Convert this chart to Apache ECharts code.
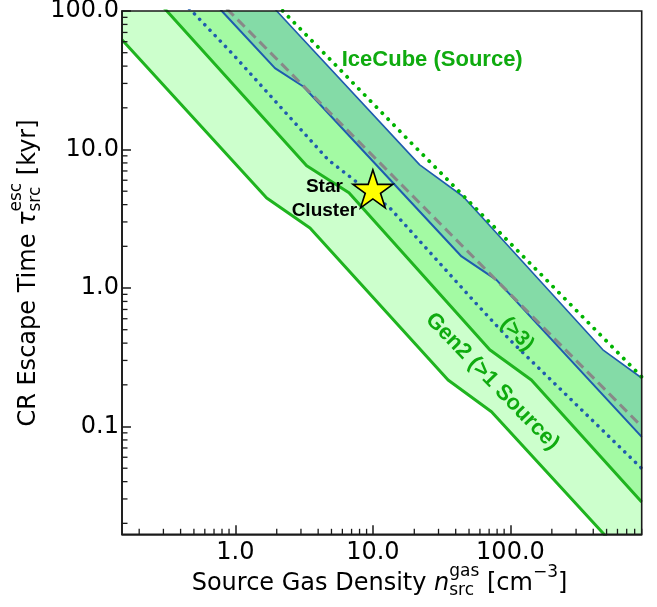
<!DOCTYPE html>
<html>
<head>
<meta charset="utf-8">
<script src="https://cdn.jsdelivr.net/npm/echarts@6/dist/echarts.min.js"></script>
<style>html,body{margin:0;padding:0;background:#fff}#chart{width:657px;height:607px}</style>
</head>
<body>
<div id="chart"></div>
<script>
// ---------- axis ranges ----------
const xMin = 0.15, xMax = 900;
const yMin = 1 / 60, yMax = 100;

// ---------- curves (density n [cm^-3] , escape time [kyr]) ----------
const gen2LowerX = [0.15, 1.69, 3.49, 35.2, 72.8, 470, 900];
const gen2LowerY = [62.0, 4.46, 2.71, 0.217, 0.128, 0.017, 0.0084];

const gen2MidX = [0.15, 0.318, 3.30, 6.70, 70.7, 142, 869, 900];
const gen2MidY = [228, 100, 7.63, 4.87, 0.358, 0.217, 0.0296, 0.0285];

const gen2UpperX = [0.15, 0.797, 1.94, 3.12, 44.1, 79.1, 900];
const gen2UpperY = [594, 100, 38.7, 28.5, 1.69, 1.146, 0.0841];

const iceEdgeX = [0.15, 2.0, 21.9, 45.3, 470, 900];
const iceEdgeY = [1594, 100, 7.75, 4.58, 0.358, 0.224];

const blueDotX = [0.3, 0.482, 0.967, 4.73, 13.3, 50.6, 98.8, 822, 900];
const blueDotY = [164, 100, 48.3, 8.43, 3.78, 0.868, 0.423, 0.0544, 0.0498];

const grayDashX = [0.5, 900];
const grayDashY = [180, 0.1];

const iceDotX = [2.0, 7.0, 18.6, 168, 845, 900];
const iceDotY = [111, 31.0, 11.4, 1.245, 0.243, 0.228];

const starX = [10];
const starY = [5.2];

// annotations: text, x, y, rotation
const annoText = ['IceCube (Source)', 'Gen2 (>1 Source)', '(>3)', 'Star\nCluster'];
const annoX = [27.0, 73.8, 112, 4.44];
const annoY = [44.4, 0.211, 0.465, 4.41];
const annoRot = [0, -46, -47, 0];

// tick values
const minorTicksX = [0.2, 0.3, 0.4, 0.5, 0.6, 0.7, 0.8, 0.9, 2, 3, 4, 5, 6, 7, 8, 9, 20, 30, 40, 50, 60, 70, 80, 90, 200, 300, 400, 500, 600, 700, 800, 900];
const minorTicksY = [0.02, 0.03, 0.04, 0.05, 0.06, 0.07, 0.08, 0.09, 0.2, 0.3, 0.4, 0.5, 0.6, 0.7, 0.8, 0.9, 2, 3, 4, 5, 6, 7, 8, 9, 20, 30, 40, 50, 60, 70, 80, 90];

// ---------- styling ----------
const C_LIGHT = '#ccffcc', C_MED = '#a3faa3', C_DARK = '#84dba7';
const C_GREEN = '#1fb41f', C_BLUE = '#1f5cae', C_GRAY = '#888888', C_GDOT = '#00b400';
const C_TEXT_GREEN = '#0fab0f';
const AXIS_C = '#1a1a1a';
const FONT = 'DejaVu Sans';
const FS = 24;

function pts(xs, ys) { return xs.map((x, i) => [x, ys[i]]); }
function fill(xs, ys, color, z) {
  return { type: 'line', data: pts(xs, ys), symbol: 'none', showSymbol: false, silent: true,
    lineStyle: { width: 0, opacity: 0 }, areaStyle: { color: color, opacity: 1, origin: 'start' }, z: z };
}
function stroke(xs, ys, color, width, type, z, cap) {
  return { type: 'line', data: pts(xs, ys), symbol: 'none', showSymbol: false, silent: true,
    lineStyle: { color: color, width: width, type: type, cap: cap || 'butt', join: 'round' }, z: z };
}
function isPow10(v) { const l = Math.log10(v); return Math.abs(l - Math.round(l)) < 1e-6; }
function fmt(v) { return isPow10(v) ? (Math.pow(10, Math.round(Math.log10(v)))).toFixed(1) : ''; }

// ---------- axis titles (graphic text with sub/superscripts) ----------
const mctx = document.createElement('canvas').getContext('2d');
function fontStr(sz, it) { return (it ? 'italic ' : '') + sz + 'px "' + FONT + '"'; }
function tw(t, sz, it) { mctx.font = fontStr(sz, it); mctx.textBaseline = 'alphabetic'; return mctx.measureText(t).width; }
function midOff(sz, it) { mctx.font = fontStr(sz, it); mctx.textBaseline = 'middle'; const m = mctx.measureText('H'); mctx.textBaseline = 'alphabetic'; return m.actualBoundingBoxDescent; }
function buildTitle(parts) {
  let x = 0; const items = [];
  parts.forEach(p => {
    if (p.stack) {
      let w = 0;
      p.stack.forEach(s => { items.push(Object.assign({ x: x }, s)); w = Math.max(w, tw(s.t, s.size, s.it)); });
      x += w;
    } else {
      items.push(Object.assign({ x: x }, p));
      x += tw(p.t, p.size, p.it);
    }
  });
  const total = x;
  return items.map(it => ({
    type: 'text', x: it.x - total / 2, y: (it.dy || 0) - midOff(it.size, it.it),
    style: { text: it.t, fontSize: it.size, fontFamily: FONT, fontStyle: it.it ? 'italic' : 'normal',
      fill: '#000', align: 'left', verticalAlign: 'middle' }
  }));
}
const xTitleParts = [
  { t: 'Source Gas Density ', size: FS },
  { t: 'n', size: FS, it: true },
  { stack: [{ t: 'gas', size: 17, dy: -14 }, { t: 'src', size: 17, dy: 5 }] },
  { t: ' [cm', size: FS },
  { t: '\u22123', size: 17, dy: -13 },
  { t: ']', size: FS }
];
const yTitleParts = [
  { t: 'CR Escape Time ', size: FS },
  { t: '\u03c4', size: FS, it: true },
  { stack: [{ t: 'esc', size: 17, dy: -14 }, { t: 'src', size: 17, dy: 5 }] },
  { t: ' [kyr]', size: FS }
];

// ---------- chart ----------
const chart = echarts.init(document.getElementById('chart'), null, { renderer: 'canvas' });

const starPath = 'path://M0,-100 L-22.45,-30.9 L-95.1,-30.9 L-36.3,11.8 L-58.8,80.9 L0,38.2 L58.8,80.9 L36.3,11.8 L95.1,-30.9 L22.45,-30.9 Z';

const annoData = annoText.map((t, i) => ({
  value: [annoX[i], annoY[i]], name: t,
  label: i === 3
    ? { color: '#000000', fontSize: 19, lineHeight: 24, fontWeight: 'bold', rotate: annoRot[i] }
    : { color: C_TEXT_GREEN, fontSize: i === 2 ? 21 : 22, fontWeight: 'bold', rotate: annoRot[i] }
}));

function minorTickSeries(vals, isX) {
  return {
    type: 'custom', z: 30, silent: true, clip: false,
    data: vals.map(v => isX ? [v, yMin] : [xMin, v]),
    renderItem: function (params, api) {
      const p = api.coord([api.value(0), api.value(1)]);
      const shape = isX ? { x1: p[0], y1: p[1], x2: p[0], y2: p[1] - 5.5 } : { x1: p[0], y1: p[1], x2: p[0] + 5.5, y2: p[1] };
      return { type: 'line', shape: shape, style: { stroke: AXIS_C, lineWidth: 1.3 } };
    }
  };
}

const option = {
  animation: false,
  backgroundColor: '#ffffff',
  grid: { left: 122, top: 11, right: 15.3, bottom: 72.7, show: true, borderColor: AXIS_C, borderWidth: 1.6,
    backgroundColor: 'transparent', z: 25, containLabel: false, outerBoundsMode: 'none' },
  xAxis: {
    type: 'log', logBase: 10, min: xMin, max: xMax, z: 20,
    axisLine: { show: true, lineStyle: { color: AXIS_C, width: 1.6 } },
    axisTick: { show: true, inside: true, length: 9, lineStyle: { color: AXIS_C, width: 1.5 } },
    axisLabel: { show: true, margin: 6, color: '#000', fontSize: FS, fontFamily: FONT, formatter: fmt,
      showMinLabel: false, showMaxLabel: false },
    splitLine: { show: false }, minorTick: { show: false }, minorSplitLine: { show: false }
  },
  yAxis: {
    type: 'log', logBase: 10, min: yMin, max: yMax, z: 20,
    axisLine: { show: true, lineStyle: { color: AXIS_C, width: 1.6 } },
    axisTick: { show: true, inside: true, length: 9, lineStyle: { color: AXIS_C, width: 1.5 } },
    axisLabel: { show: true, margin: 3, color: '#000', fontSize: FS, fontFamily: FONT, formatter: fmt,
      showMinLabel: false, showMaxLabel: true },
    splitLine: { show: false }, minorTick: { show: false }, minorSplitLine: { show: false }
  },
  graphic: [
    { type: 'group', x: 379.5, y: 590, children: buildTitle(xTitleParts) },
    { type: 'group', x: 35, y: 273, rotation: Math.PI / 2, children: buildTitle(yTitleParts) }
  ],
  series: [
    fill(iceEdgeX, iceEdgeY, C_DARK, 1),
    fill(gen2UpperX, gen2UpperY, C_MED, 2),
    fill(gen2MidX, gen2MidY, C_LIGHT, 3),
    fill(gen2LowerX, gen2LowerY, '#ffffff', 4),
    stroke(gen2LowerX, gen2LowerY, C_GREEN, 3, 'solid', 5),
    stroke(gen2MidX, gen2MidY, C_GREEN, 3, 'solid', 5),
    stroke(gen2UpperX, gen2UpperY, C_BLUE, 2, 'solid', 6),
    stroke(iceEdgeX, iceEdgeY, C_BLUE, 1.6, 'solid', 6),
    stroke(blueDotX, blueDotY, C_BLUE, 3.5, [0.1, 7.4], 7, 'round'),
    stroke(grayDashX, grayDashY, C_GRAY, 3, [10, 5.5], 7),
    stroke(iceDotX, iceDotY, C_GDOT, 3.8, [0.1, 8.3], 8, 'round'),
    {
      type: 'scatter', z: 9, silent: true, data: pts(starX, starY),
      symbol: starPath, symbolSize: [40, 38], symbolKeepAspect: false,
      itemStyle: { color: '#ffff00', borderColor: '#000', borderWidth: 1.6, opacity: 1 }
    },
    {
      type: 'scatter', z: 10, silent: true, data: annoData, symbolSize: 1,
      itemStyle: { color: 'rgba(0,0,0,0)', borderWidth: 0 },
      label: { show: true, position: 'inside', formatter: p => p.name, fontFamily: 'Liberation Sans',
        align: 'center', verticalAlign: 'middle', textBorderWidth: 0, textBorderColor: 'transparent',
        textShadowBlur: 0, opacity: 1 },
      labelLayout: { hideOverlap: false }
    },
    minorTickSeries(minorTicksX, true),
    minorTickSeries(minorTicksY, false)
  ]
};
chart.setOption(option);
</script>
</body>
</html>
